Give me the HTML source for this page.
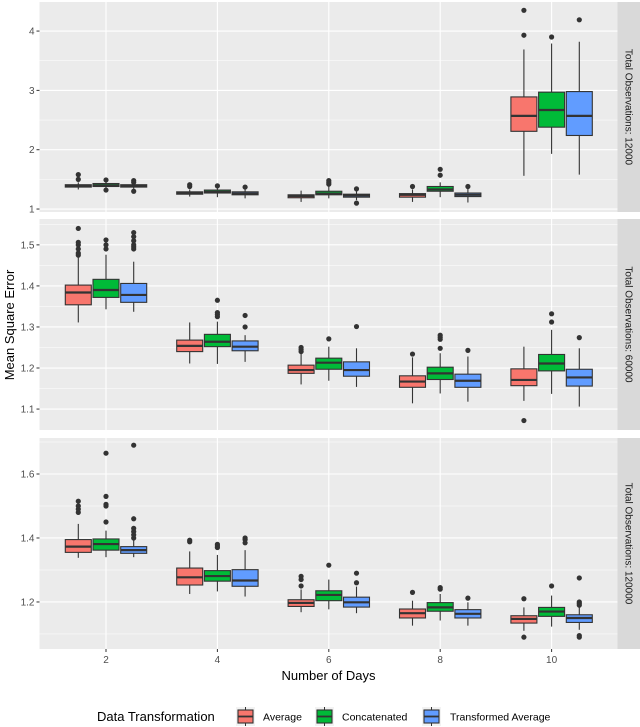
<!DOCTYPE html>
<html><head><meta charset="utf-8"><style>
html,body{margin:0;padding:0;background:#fff;}
svg{display:block;font-family:"Liberation Sans",Arial,sans-serif;}
</style></head><body>
<svg id="chart" width="640" height="727" viewBox="0 0 640 727" xmlns="http://www.w3.org/2000/svg"></svg>
<script>
// ---- data ----
const days = [2, 4, 6, 8, 10];
const groups = ["Average", "Concatenated", "Transformed Average"];
const groupColors = ["#F8766D", "#00BA38", "#619CFF"];
const panelLabels = ["Total Observations: 12000", "Total Observations: 60000", "Total Observations: 120000"];
const panelTicks = [[1, 2, 3, 4], [1.1, 1.2, 1.3, 1.4, 1.5], [1.2, 1.4, 1.6]];
const panelTickLabels = [["1", "2", "3", "4"], ["1.1", "1.2", "1.3", "1.4", "1.5"], ["1.2", "1.4", "1.6"]];
const panelMinor = [[1.5, 2.5, 3.5], [1.15, 1.25, 1.35, 1.45, 1.55], [1.1, 1.3, 1.5, 1.7]];
// order: day 2 (avg, concat, trans), day 4 (...), ...
const p1Q1  = [1.37,1.38,1.37, 1.25,1.27,1.24, 1.19,1.24,1.20, 1.20,1.30,1.21, 2.31,2.38,2.24];
const p1Med = [1.39,1.40,1.39, 1.27,1.29,1.26, 1.22,1.26,1.23, 1.24,1.33,1.24, 2.57,2.67,2.57];
const p1Q3  = [1.41,1.43,1.41, 1.29,1.32,1.29, 1.24,1.30,1.25, 1.26,1.38,1.27, 2.89,2.97,2.98];
const p1Lo  = [1.33,1.35,1.34, 1.21,1.20,1.18, 1.12,1.18,1.15, 1.12,1.20,1.11, 1.56,1.93,1.58];
const p1Hi  = [1.45,1.47,1.45, 1.33,1.35,1.33, 1.31,1.38,1.30, 1.33,1.45,1.34, 3.69,3.79,3.82];
const p1Out = [[1.5,1.58],[1.49,1.32],[1.48,1.45,1.3], [1.38,1.41],[1.39],[1.37], [],[1.42,1.45,1.48],[1.34,1.1], [1.38],[1.57,1.67],[1.38], [3.93,4.35],[3.9],[4.19]];

const p2Q1  = [1.354,1.372,1.360, 1.240,1.252,1.242, 1.187,1.197,1.180, 1.153,1.172,1.153, 1.157,1.193,1.156];
const p2Med = [1.384,1.390,1.378, 1.254,1.264,1.252, 1.195,1.213,1.195, 1.167,1.187,1.169, 1.171,1.211,1.177];
const p2Q3  = [1.402,1.416,1.406, 1.268,1.282,1.266, 1.207,1.224,1.215, 1.181,1.202,1.185, 1.198,1.233,1.197];
const p2Lo  = [1.311,1.343,1.337, 1.211,1.210,1.215, 1.160,1.169,1.154, 1.114,1.138,1.118, 1.120,1.137,1.106];
const p2Hi  = [1.470,1.476,1.459, 1.311,1.313,1.280, 1.236,1.252,1.248, 1.226,1.236,1.228, 1.252,1.293,1.248];
const p2Out = [[1.475,1.48,1.49,1.5,1.506,1.54],[1.49,1.5,1.512],[1.49,1.495,1.5,1.51,1.52,1.53], [],[1.325,1.33,1.335,1.365],[1.30,1.328], [1.24,1.245,1.25],[1.271],[1.301], [1.234],[1.248,1.27,1.275,1.28],[1.243], [1.072],[1.312,1.332],[1.274]];

const p3Q1  = [1.355,1.362,1.352, 1.253,1.265,1.249, 1.186,1.204,1.184, 1.150,1.171,1.150, 1.134,1.155,1.136];
const p3Med = [1.373,1.381,1.362, 1.277,1.281,1.267, 1.197,1.222,1.199, 1.165,1.183,1.163, 1.147,1.170,1.150];
const p3Q3  = [1.395,1.397,1.373, 1.306,1.298,1.301, 1.207,1.235,1.215, 1.178,1.198,1.176, 1.157,1.183,1.160];
const p3Lo  = [1.338,1.340,1.340, 1.225,1.233,1.217, 1.168,1.177,1.165, 1.126,1.142,1.126, 1.110,1.123,1.113];
const p3Hi  = [1.444,1.423,1.418, 1.358,1.347,1.362, 1.239,1.270,1.248, 1.204,1.225,1.199, 1.183,1.220,1.189];
const p3Out = [[1.48,1.49,1.5,1.515],[1.45,1.5,1.505,1.53,1.665],[1.4,1.41,1.42,1.43,1.46,1.69], [1.388,1.393],[1.37,1.375,1.38],[1.385,1.395,1.4], [1.25,1.27,1.28],[1.315],[1.26,1.29], [1.23],[1.24,1.245],[1.212], [1.21,1.09],[1.25],[1.19,1.195,1.2,1.275,1.09,1.095]];

// ---- layout ----
const NS = "http://www.w3.org/2000/svg";
const svg = document.getElementById("chart");
const PL = 39.5, PR = 617.5;
const panels = [
  {top: 2, bottom: 212, vTop: 4.49, vBot: 0.95, q1: p1Q1, med: p1Med, q3: p1Q3, lo: p1Lo, hi: p1Hi, out: p1Out},
  {top: 219, bottom: 430, vTop: 1.563, vBot: 1.049, q1: p2Q1, med: p2Med, q3: p2Q3, lo: p2Lo, hi: p2Hi, out: p2Out},
  {top: 438, bottom: 649, vTop: 1.7125, vBot: 1.053, q1: p3Q1, med: p3Med, q3: p3Q3, lo: p3Lo, hi: p3Hi, out: p3Out}
];
function xScale(d) { return 106 + (d - 2) * 55.7; }
const DODGE = 27.7, BW = 26;
function el(tag, attrs, parent) {
  const e = document.createElementNS(NS, tag);
  for (const k in attrs) e.setAttribute(k, attrs[k]);
  (parent || svg).appendChild(e);
  return e;
}

panels.forEach((p, pi) => {
  const y = v => p.top + (p.vTop - v) / (p.vTop - p.vBot) * (p.bottom - p.top);
  const g = el("g", {});
  
  
  const bg = el("rect", {x: PL, y: p.top, width: PR - PL, height: p.bottom - p.top, fill: "#EBEBEB"}, g);
  
  
  panelMinor[pi].forEach(v => {
    const yy = y(v);
    if (yy > p.top && yy < p.bottom) {
      const l = el("line", {x1: PL, x2: PR, y1: yy, y2: yy, stroke: "#fff", "stroke-width": 0.5}, g);
      
      
    }
  });
  panelTicks[pi].forEach((v, ti) => {
    const yy = y(v);
    const l = el("line", {x1: PL, x2: PR, y1: yy, y2: yy, stroke: "#fff", "stroke-width": 1.1}, g);
    
    
    const tk = el("line", {x1: PL - 3, x2: PL, y1: yy, y2: yy, stroke: "#333", "stroke-width": 1}, g);
    
    
    const t = el("text", {x: PL - 5, y: yy + 3.5, "text-anchor": "end", "font-size": 10, fill: "#4D4D4D"}, g);
    t.textContent = panelTickLabels[pi][ti];
    
    
  });
  days.forEach(d => {
    const l = el("line", {x1: xScale(d), x2: xScale(d), y1: p.top, y2: p.bottom, stroke: "#fff", "stroke-width": 1.1}, g);
    
    
  });
  // strip
  const st = el("rect", {x: PR, y: p.top, width: 640 - PR, height: p.bottom - p.top, fill: "#D9D9D9"}, g);
  
  
  const cy = (p.top + p.bottom) / 2;
  const stt = el("text", {x: 0, y: 0, transform: `translate(625.5,${cy}) rotate(90)`, "text-anchor": "middle", "font-size": 10, fill: "#1A1A1A"}, g);
  stt.textContent = panelLabels[pi];
  
  
  // boxes
  days.forEach((d, di) => {
    groups.forEach((gr, gi) => {
      const i = di * 3 + gi;
      const cx = xScale(d) + (gi - 1) * DODGE;
      const bx = el("g", {}, g);
      
      
      el("line", {x1: cx, x2: cx, y1: y(p.hi[i]), y2: y(p.q3[i]), stroke: "#333", "stroke-width": 1.1}, bx);
      el("line", {x1: cx, x2: cx, y1: y(p.q1[i]), y2: y(p.lo[i]), stroke: "#333", "stroke-width": 1.1}, bx);
      el("rect", {x: cx - BW / 2, y: y(p.q3[i]), width: BW, height: Math.max(1, y(p.q1[i]) - y(p.q3[i])), fill: groupColors[gi], stroke: "#333", "stroke-width": 1.1}, bx);
      el("line", {x1: cx - BW / 2, x2: cx + BW / 2, y1: y(p.med[i]), y2: y(p.med[i]), stroke: "#333", "stroke-width": 2.2}, bx);
      p.out[i].forEach(v => {
        const c = el("circle", {cx: cx, cy: y(v), r: 2.6, fill: "#333"}, bx);
        
        
      });
    });
  });
});

// x axis
days.forEach(d => {
  const tk = el("line", {x1: xScale(d), x2: xScale(d), y1: 649, y2: 652, stroke: "#333", "stroke-width": 1});
  
  
  const t = el("text", {x: xScale(d), y: 663, "text-anchor": "middle", "font-size": 10, fill: "#4D4D4D"});
  t.textContent = String(d);
  
  
});
const xt = el("text", {x: 328.5, y: 680, "text-anchor": "middle", "font-size": 13, fill: "#000"});
xt.textContent = "Number of Days";


const yt = el("text", {x: 0, y: 0, transform: "translate(14,325) rotate(-90)", "text-anchor": "middle", "font-size": 13, fill: "#000"});
yt.textContent = "Mean Square Error";



// legend
const lt = el("text", {x: 97, y: 721, "font-size": 13, fill: "#000"});
lt.textContent = "Data Transformation";


const keyX = [236, 315, 422];
const labX = [263, 342, 450];
groups.forEach((gr, gi) => {
  const lg = el("g", {});
  
  
  const kx = keyX[gi];
  el("rect", {x: kx, y: 707, width: 19, height: 19, fill: "#F2F2F2"}, lg);
  el("line", {x1: kx + 9.5, x2: kx + 9.5, y1: 707, y2: 726, stroke: "#333", "stroke-width": 1}, lg);
  el("rect", {x: kx + 2, y: 710, width: 15, height: 13, fill: groupColors[gi], stroke: "#333", "stroke-width": 1.1}, lg);
  el("line", {x1: kx + 2, x2: kx + 17, y1: 716.5, y2: 716.5, stroke: "#333", "stroke-width": 1.8}, lg);
  const t = el("text", {x: labX[gi], y: 720.5, "font-size": 10.5, fill: "#000"}, lg);
  t.textContent = gr;
});
</script>
</body></html>
